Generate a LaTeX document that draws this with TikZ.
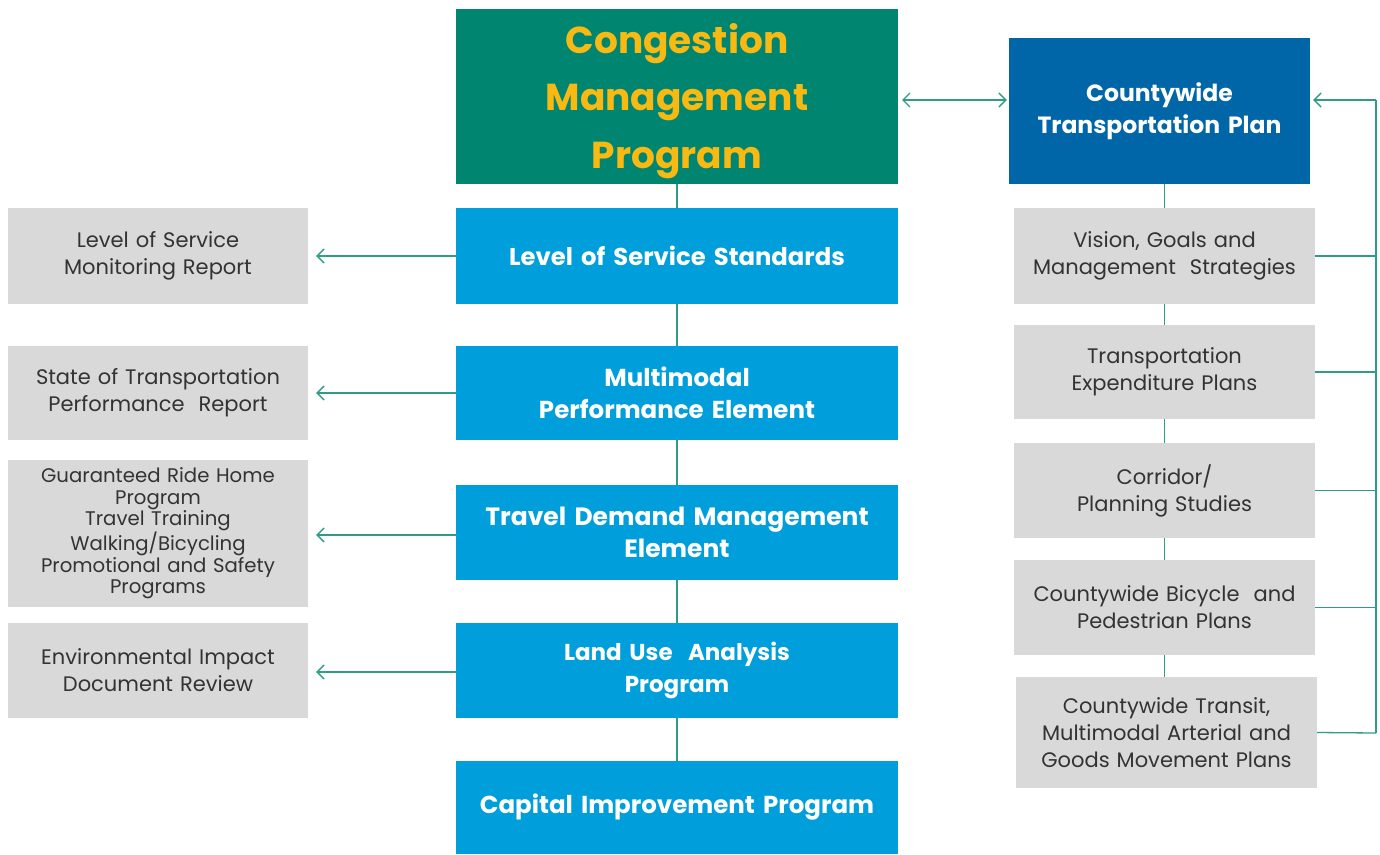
\documentclass[tikz,border=0pt]{standalone}
\usepackage{fontspec}
\setmainfont{Poppins}
\usetikzlibrary{arrows.meta}
\definecolor{cmpgreen}{HTML}{008571}
\definecolor{gold}{HTML}{F8B912}
\definecolor{lblue}{HTML}{009FDB}
\definecolor{dblue}{HTML}{0066A8}
\definecolor{lgray}{HTML}{D9D9D9}
\definecolor{teal}{HTML}{2E9C86}
\definecolor{gtext}{HTML}{333333}
\tikzset{
  box/.style={rectangle, inner sep=0pt, align=center, text width=#1-8pt},
  bluebox/.style={box=442pt, fill=lblue, text=white, minimum width=442pt,
    font=\fontsize{24.3}{31.5}\selectfont\bfseries},
  graybox/.style={box=300pt, fill=lgray, text=gtext, minimum width=300pt,
    font=\fontsize{21}{27}\selectfont},
  conn/.style={draw=teal, line width=1.3pt},
  arr/.style={conn, -{Straight Barb[length=7pt,width=14pt,line width=1.3pt]}},
  arrboth/.style={conn, {Straight Barb[length=7pt,width=14pt,line width=1.3pt]}-{Straight Barb[length=7pt,width=14pt,line width=1.3pt]}},
}
\begin{document}
\begin{tikzpicture}[x=1pt,y=-1pt]
\fill[white] (0,0) rectangle (1380,854);
\useasboundingbox (0,0) rectangle (1380,854);

% centre column
\node[rectangle, inner sep=0pt, fill=cmpgreen, minimum width=442pt, minimum height=175pt] (cmp) at (677,96.5) {};
\node[align=center, inner sep=0pt, text=gold, font=\fontsize{37.5}{57.5}\selectfont\bfseries] (cmptext) at ([yshift=-4.5pt]cmp.center) {Congestion\\Management\\Program};
\node[bluebox, minimum height=96pt] (los) at (677,256) {Level of Service Standards};
\node[bluebox, minimum height=94pt, font=\fontsize{24.5}{31.5}\selectfont\bfseries] (mpe) at (677,393) {Multimodal\\Performance Element};
\node[bluebox, minimum height=95pt, font=\fontsize{25}{31.5}\selectfont\bfseries] (tdm) at (677,532.5) {Travel Demand Management\\Element};
\node[bluebox, minimum height=95pt, font=\fontsize{23}{31.5}\selectfont\bfseries] (lua) at (677,670.5) {Land Use\ \ Analysis\\Program};
\node[bluebox, minimum height=93pt, font=\fontsize{24.5}{31}\selectfont\bfseries] (cip) at (677,807.5) {Capital Improvement Program};

% left column
\node[graybox, minimum height=96pt] (l1) at (158,256) {Level of Service\\Monitoring Report};
\node[graybox, minimum height=94pt] (l2) at (158,393) {State of Transportation\\Performance\ \ Report};
\node[graybox, minimum height=147pt, font=\fontsize{19.7}{21.6}\selectfont] (l3) at (158,533.5) {Guaranteed Ride Home\\Program\\Travel Training\\Walking/Bicycling\\Promotional and Safety\\Programs};
\node[graybox, minimum height=95pt] (l4) at (158,670.5) {Environmental Impact\\Document Review};

% right column
\node[box=301pt, fill=dblue, text=white, minimum width=301pt, minimum height=146pt,
  font=\fontsize{23.5}{32}\selectfont\bfseries] (ctp) at (1159.5,111) {Countywide\\Transportation Plan};
\node[graybox, minimum width=301pt, minimum height=96pt] (v1) at (1164.5,256) {Vision, Goals and\\Management\ \ Strategies};
\node[graybox, minimum width=301pt, minimum height=94pt] (v2) at (1164.5,372) {Transportation\\Expenditure Plans};
\node[graybox, minimum width=301pt, minimum height=95pt] (v3) at (1164.5,490.5) {Corridor/\\Planning Studies};
\node[graybox, minimum width=301pt, minimum height=95pt] (v4) at (1164.5,607.5) {Countywide Bicycle\ \ and\\Pedestrian Plans};
\node[graybox, minimum width=301pt, minimum height=111pt] (v5) at (1166.5,732.5) {Countywide Transit,\\Multimodal Arterial and\\Goods Movement Plans};

% centre vertical connectors
\draw[conn] (cmp.south) -- (los.north);
\draw[conn] (los.south) -- (mpe.north);
\draw[conn] (mpe.south) -- (tdm.north);
\draw[conn] (tdm.south) -- (lua.north);
\draw[conn] (lua.south) -- (cip.north);

% arrows to left
\draw[arr, shorten >=8pt] (los.west) -- (los.west -| l1.east);
\draw[arr, shorten >=8pt] (mpe.west) -- (mpe.west -| l2.east);
\draw[arr, shorten >=8pt] ([yshift=-2.5pt]tdm.west) -- ([yshift=-2.5pt]tdm.west -| l3.east);
\draw[arr, shorten >=8pt] ([yshift=-1.5pt]lua.west) -- ([yshift=-1.5pt]lua.west -| l4.east);

% double arrow
\coordinate (da) at (898,100);
\draw[arrboth, shorten <=4pt, shorten >=2pt] (da) -- (da -| ctp.west);

% right column connectors
\draw[conn] (v1.north) -- (v1.north |- ctp.south);
\draw[conn] (v1.south) -- (v2.north);
\draw[conn] (v2.south) -- (v3.north);
\draw[conn] (v3.south) -- (v4.north);
\draw[conn] (v4.south) -- (v4.south |- v5.north);

% right bus
\coordinate (bt) at (1376,100);
\coordinate (bb) at (1376,733);
\draw[conn] (bb) -- (bt);
\draw[arr, shorten >=3pt] (bt) -- (bt -| ctp.east);
\foreach \n in {v1,v2,v3,v4} \draw[conn] (\n.east) -- (\n.east -| bb);
\draw[conn] (v5.east) -- (bb);
\end{tikzpicture}
\end{document}
